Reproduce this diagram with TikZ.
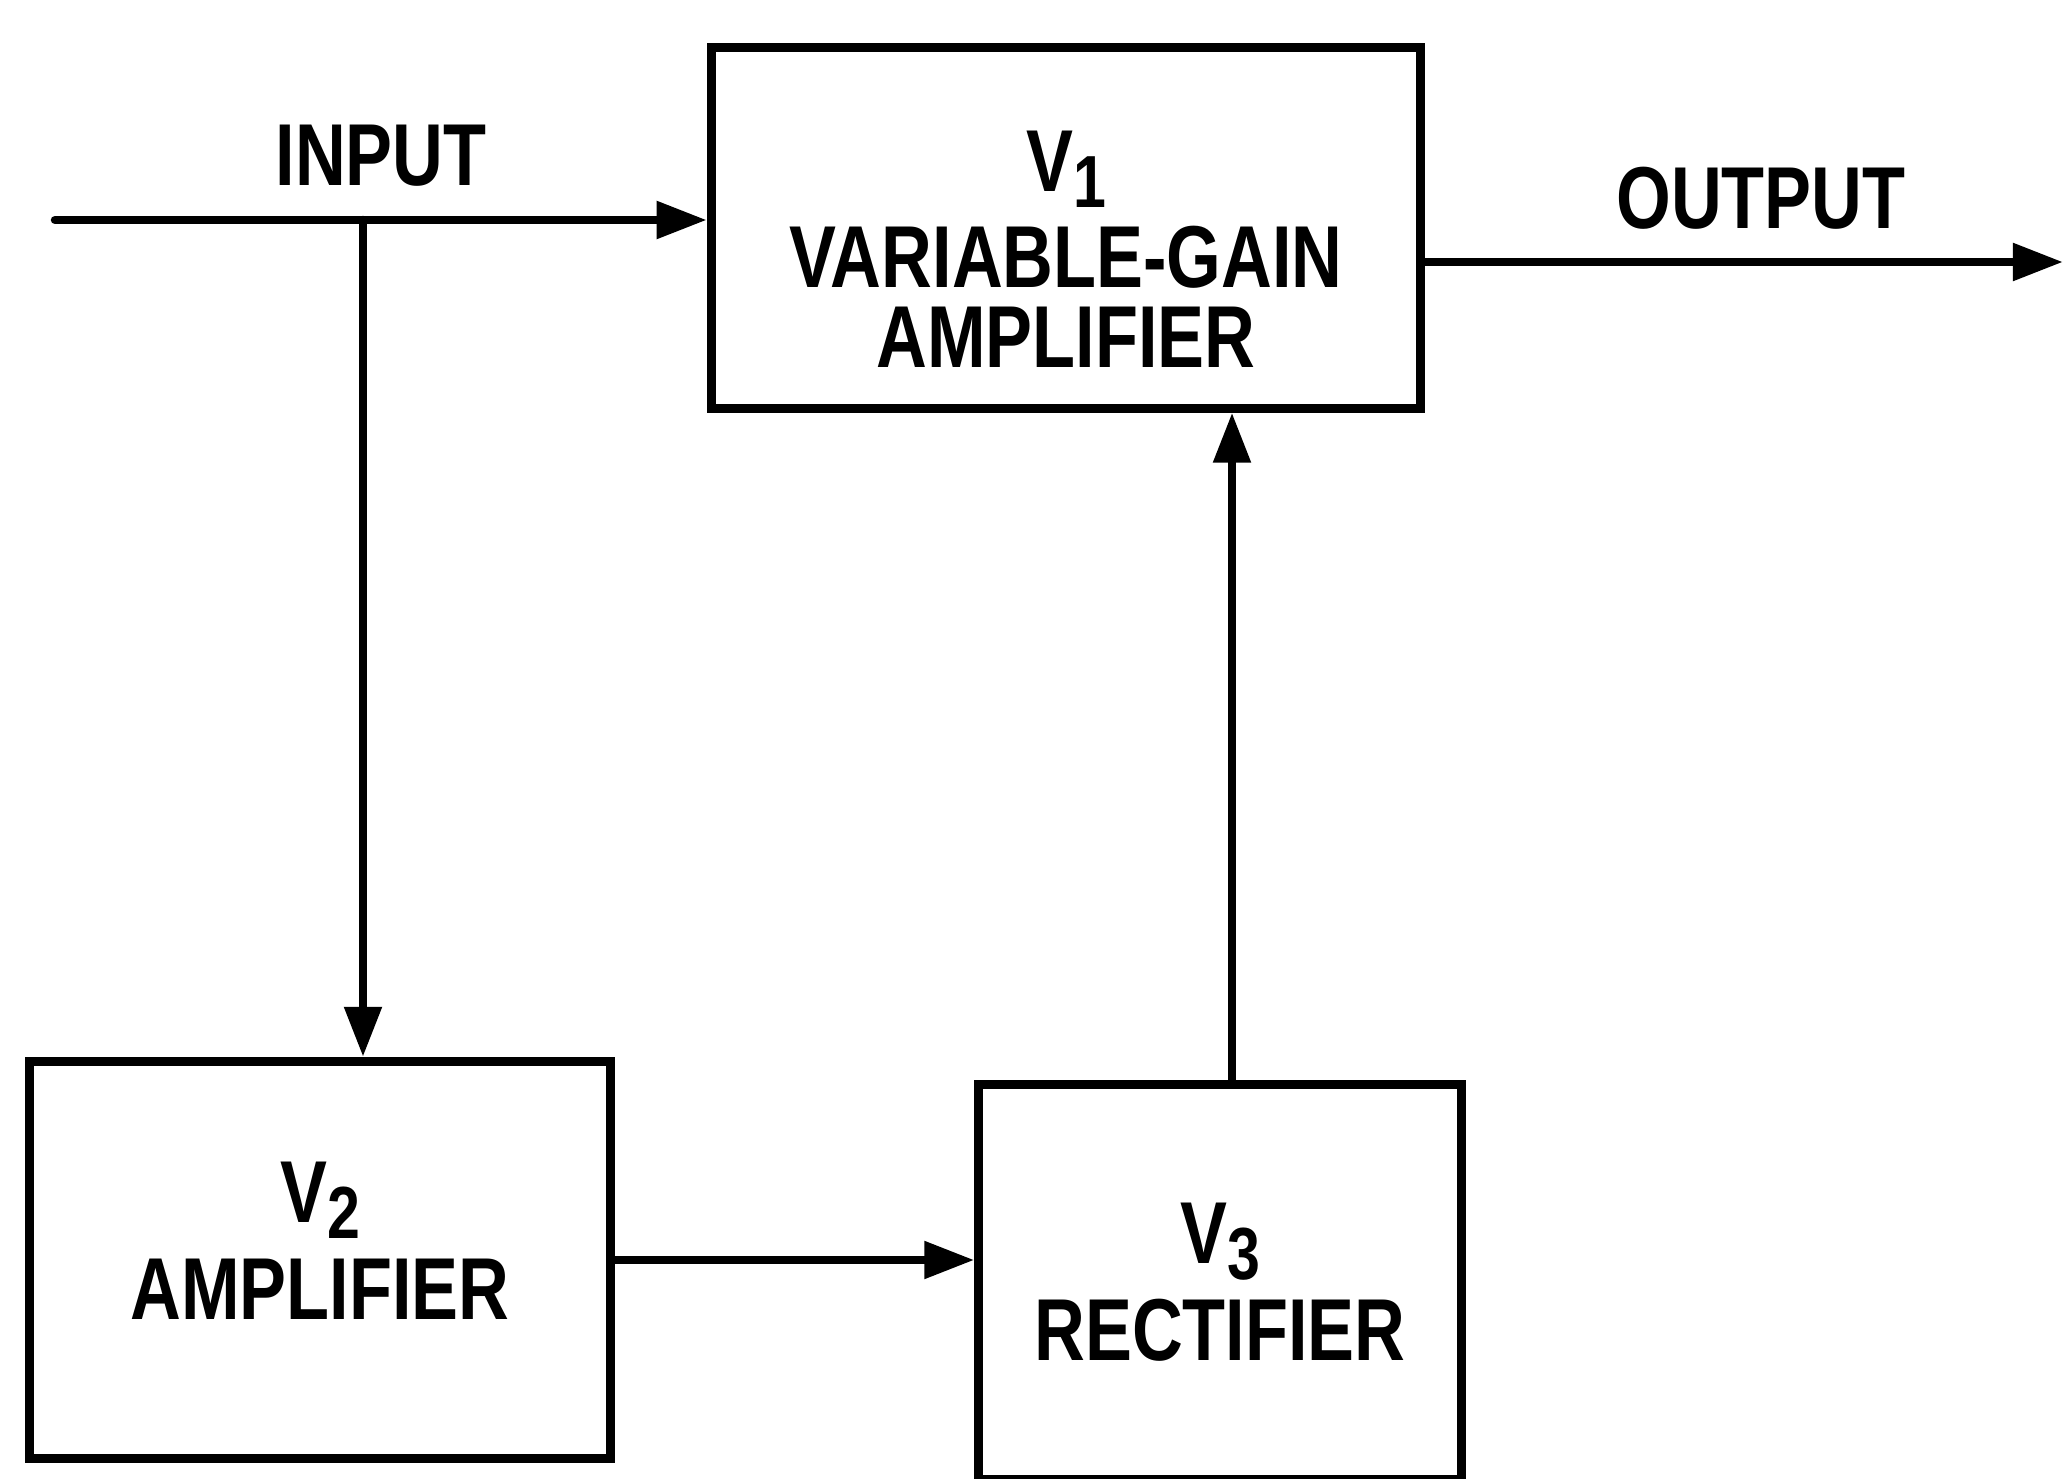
\documentclass[tikz,border=0pt]{standalone}
\usepackage{fontspec}
\newfontfamily\blockfont[FakeStretch=0.8]{Liberation Sans}
\newcommand\tubeno[1]{\raisebox{-0.18em}{\fontsize{21}{21}\selectfont #1}}
\usetikzlibrary{arrows.meta,positioning,calc}

\begin{document}
\begin{tikzpicture}[x=0.01cm,y=-0.01cm,
  block/.style={draw, line width=2.6pt, align=center, inner sep=0pt},
  wire/.style={line width=2.4pt, line cap=round, -{Triangle[length=0.5cm,width=0.36cm]}},
  font=\blockfont\bfseries\fontsize{25}{22.7}\selectfont]
  \useasboundingbox (0,0) rectangle (2065,1479);

  % V1 variable-gain amplifier (top)
  \node[block, minimum width=7.09cm, minimum height=3.6cm] (v1) at (1066,228)
    {\rule{0pt}{1.03cm}V\tubeno{1}\\[0.16cm] VARIABLE-GAIN\\ AMPLIFIER};

  % V2 amplifier (bottom left)
  \node[block, minimum width=5.81cm, minimum height=3.97cm] (v2) at (320,1260)
    {V\tubeno{2}\\[0.17cm] AMPLIFIER\rule[-0.38cm]{0pt}{0pt}};

  % V3 rectifier (bottom right)
  \node[block, minimum width=4.82cm, minimum height=3.94cm] (v3) at (1220,1282)
    {V\tubeno{3}\\[0.17cm] RECTIFIER};

  % Input line and branch to V2
  \coordinate (in) at (55,220);
  \coordinate (tap) at (363,220);
  \draw[wire] (in) -- (in -| v1.west);
  \node at (381,156) {INPUT};
  \draw[wire] (tap) -- (tap |- v2.north);

  % V2 to V3, V3 back to V1
  \draw[wire] (v2.east) -- (v2.east -| v3.west);
  \draw[wire] ([xshift=0.12cm]v3.north) -- ([xshift=0.12cm]v3.north |- v1.south);

  % Output
  \coordinate (out) at (2063,262);
  \draw[wire] (v1.east |- out) -- (out);
  \node at (1761,198) {OUTPUT};
\end{tikzpicture}
\end{document}
